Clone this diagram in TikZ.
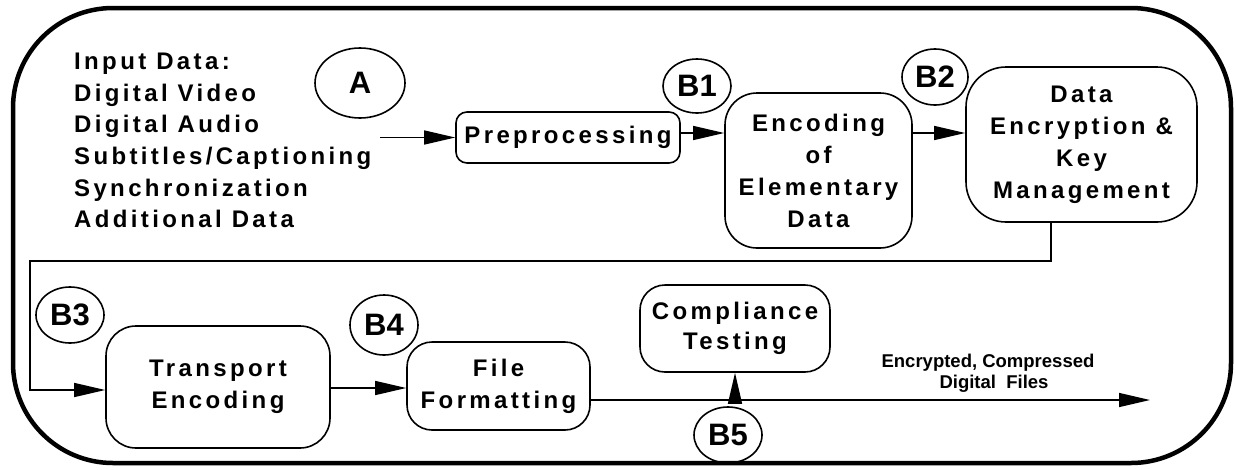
\documentclass[tikz,border=0pt]{standalone}
\usepackage{fontspec}
\setmainfont{Liberation Sans}
\newfontfamily\trk{Liberation Sans}[LetterSpace=14]
\usetikzlibrary{arrows.meta,shapes.geometric}
\tikzset{
  box/.style={draw,line width=1.6pt,align=center,inner sep=0pt,
    font=\trk\bfseries\fontsize{24}{32}\selectfont},
  tag/.style={draw,ellipse,line width=1.6pt,inner sep=0pt,
    font=\bfseries\fontsize{31}{31}\selectfont},
  arr/.style={line width=1.4pt,-{Triangle[length=31pt,width=14pt]}},
  ln/.style={line width=1.4pt}
}
\begin{document}
\begin{tikzpicture}[x=1pt,y=-1pt]
\useasboundingbox (0,0) rectangle (1236,469);
\draw[line width=4.5pt,rounded corners=100pt] (13,8) rectangle (1231,463);
% input text
\node[anchor=north west,inner sep=0pt,align=left,
  font=\trk\bfseries\fontsize{24}{31.6}\selectfont] (input) at (74,53)
  {Input Data:\\Digital Video\\Digital Audio\\Subtitles/Captioning\\Synchronization\\Additional Data};
% tags
\node[tag,minimum width=90pt,minimum height=70pt] (A) at (360,83) {A};
\node[tag,minimum width=68pt,minimum height=54pt] (B1) at (697,86) {B1};
\node[tag,minimum width=66pt,minimum height=56pt] (B2) at (935,77) {B2};
\node[tag,minimum width=68pt,minimum height=56pt] (B3) at (70,315) {B3};
\node[tag,minimum width=68pt,minimum height=60pt] (B4) at (384,325) {B4};
\node[tag,minimum width=68pt,minimum height=56pt] (B5) at (728,435) {B5};
% boxes
\node[box,rounded corners=11pt,minimum width=224pt,minimum height=51pt] (prep) at (568,137.5) {Preprocessing};
\node[box,rounded corners=32pt,minimum width=187pt,minimum height=155pt] (enc) at (818.5,170.5) {Encoding\\of\\Elementary\\Data};
\node[box,rounded corners=40pt,minimum width=231pt,minimum height=155pt] (data) at (1081.5,144.5) {Data\\Encryption \&\\Key\\Management};
\node[box,rounded corners=30pt,minimum width=224pt,minimum height=122pt] (trans) at (218,387) {Transport\\Encoding};
\node[box,rounded corners=25pt,minimum width=183pt,minimum height=88pt] (file) at (498.5,386) {File\\Formatting};
\node[box,rounded corners=25pt,minimum width=190pt,minimum height=87pt,
  font=\trk\bfseries\fontsize{24}{30}\selectfont] (comp) at (735,328.5) {Compliance\\Testing};
% label
\node[align=center,inner sep=0pt,font=\bfseries\fontsize{18.5}{21}\selectfont] (lbl) at (988,373)
  {Encrypted, Compressed\\\hspace*{12pt}Digital\ \ Files};
% connectors
\coordinate (inp) at (380,137.5);
\draw[arr] (inp) -- (prep.west);
\draw[arr] ([yshift=4.5pt]prep.east) coordinate (p1) -- (p1 -| enc.west);
\draw[arr] ([yshift=37.5pt]enc.east) coordinate (p2) -- (p2 -| data.west);
\coordinate (c1) at (30,261);
\draw[arr] ([xshift=-30.5pt]data.south) |- (c1) |- ([yshift=-3pt]trans.west);
\draw[arr] ([yshift=-1pt]trans.east) coordinate (p3) -- (p3 -| file.west);
\coordinate (out) at (1150,400);
\draw[arr] (file.east |- out) -- (out);
\coordinate (b5top) at (735,400);
\draw[arr] (b5top) -- (comp.south);
\end{tikzpicture}
\end{document}
